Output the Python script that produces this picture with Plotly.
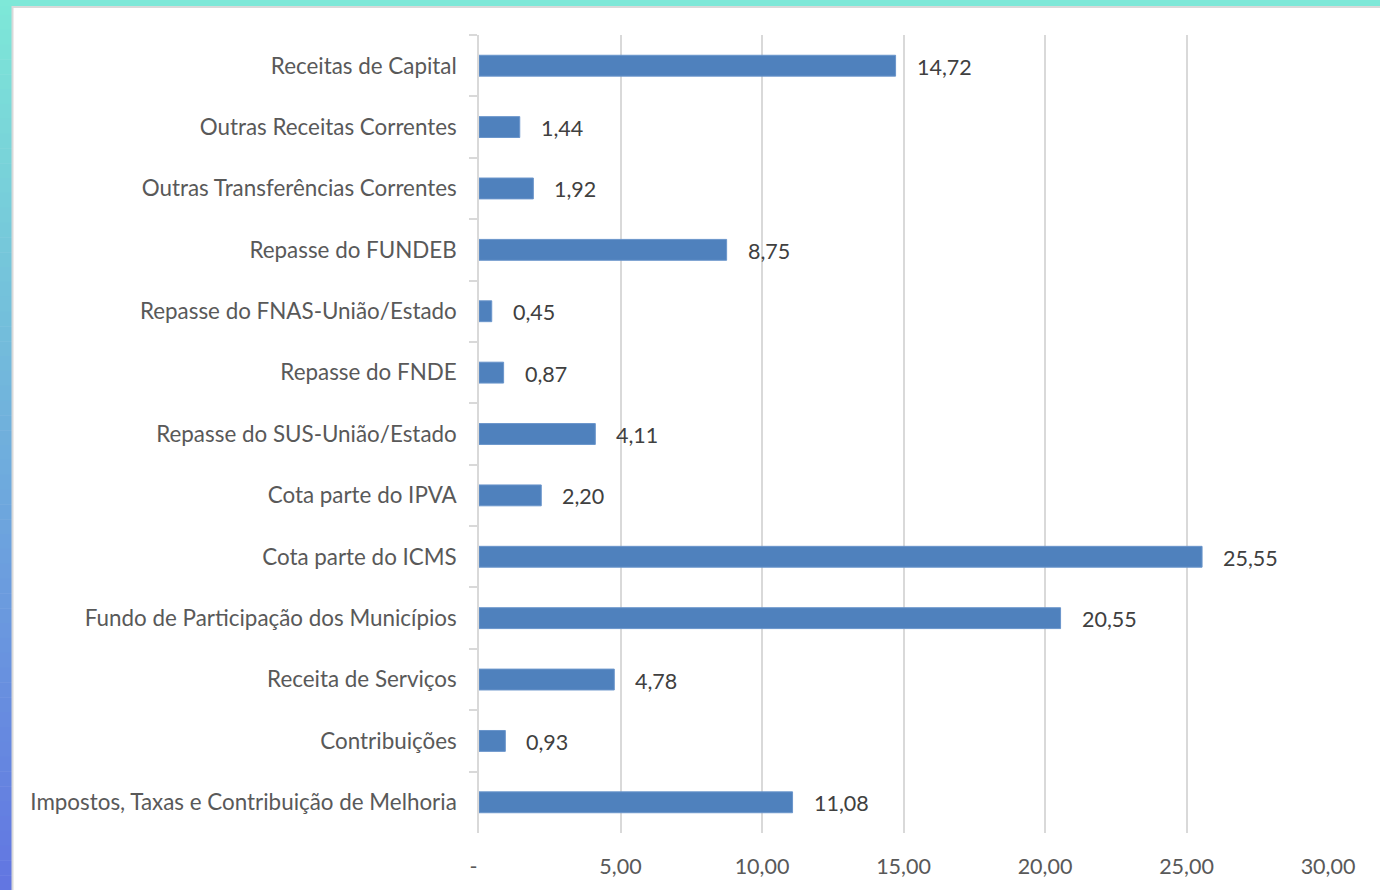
import plotly.graph_objects as go

categories = [
    "Receitas de Capital",
    "Outras Receitas Correntes",
    "Outras Transferências Correntes",
    "Repasse do FUNDEB",
    "Repasse do FNAS-União/Estado",
    "Repasse do FNDE",
    "Repasse do SUS-União/Estado",
    "Cota parte do IPVA",
    "Cota parte do ICMS",
    "Fundo de Participação dos Municípios",
    "Receita de Serviços",
    "Contribuições",
    "Impostos, Taxas e Contribuição de Melhoria",
]
values = [14.72, 1.44, 1.92, 8.75, 0.45, 0.87, 4.11, 2.20, 25.55, 20.55, 4.78, 0.93, 11.08]
tick_vals = [0, 5, 10, 15, 20, 25, 30]
tick_text = ["-\u00a0\u00a0", "5,00", "10,00", "15,00", "20,00", "25,00", "30,00"]

W, H = 1380, 890
L, R, T, B = 479, 52, 35, 57
pw, ph = W - L - R, H - T - B

def px_x(p):
    return (p - L) / pw

def px_y(p):
    return 1 - (p - T) / ph

def fmt(v):
    return f"{v:.2f}".replace(".", ",")

FONT = "Lato, Open Sans, sans-serif"

fig = go.Figure()
fig.add_trace(go.Bar(
    y=categories, x=values, orientation="h",
    marker=dict(color="#4F81BD", line=dict(color="#6A95CB", width=1)),
    width=0.34, showlegend=False, hoverinfo="skip",
))

annotations = []
for c, v in zip(categories, values):
    annotations.append(dict(
        x=v, y=c, xref="x", yref="y", text=fmt(v), showarrow=False,
        xanchor="left", xshift=19, yshift=-1,
        font=dict(family=FONT, size=21.5, color="#404040"),
    ))

shapes = []
# gradient frame (decoration)
top_c = (126, 232, 216)
bot_c = (98, 118, 226)
n = 60
for i in range(n):
    t0 = i / n
    t1 = (i + 1) / n
    tm = (t0 + t1) / 2
    col = tuple(int(top_c[k] + (bot_c[k] - top_c[k]) * tm) for k in range(3))
    shapes.append(dict(
        type="rect", xref="paper", yref="paper", layer="below",
        x0=px_x(0), x1=px_x(12), y0=px_y(H * t1 + 0.5), y1=px_y(H * t0),
        fillcolor=f"rgb{col}", line=dict(width=0),
    ))
shapes.append(dict(
    type="rect", xref="paper", yref="paper", layer="below",
    x0=px_x(0), x1=px_x(W), y0=px_y(6), y1=px_y(0),
    fillcolor="rgb(126,232,216)", line=dict(width=0),
))
# panel border
shapes.append(dict(type="line", xref="paper", yref="paper", layer="below",
                   x0=px_x(12.5), x1=px_x(12.5), y0=px_y(H), y1=px_y(6),
                   line=dict(color="#D9D9D9", width=2)))
shapes.append(dict(type="line", xref="paper", yref="paper", layer="below",
                   x0=px_x(12), x1=px_x(W), y0=px_y(7), y1=px_y(7),
                   line=dict(color="#D9D9D9", width=2)))

fig.update_layout(
    width=W, height=H,
    margin=dict(l=L, r=R, t=T, b=B, pad=0),
    paper_bgcolor="white", plot_bgcolor="white",
    font=dict(family=FONT, size=22.4, color="#595959"),
    annotations=annotations, shapes=shapes,
    bargap=0.66,
)
fig.update_xaxes(
    range=[0, 30], tickvals=tick_vals, ticktext=tick_text,
    showgrid=True, gridcolor="#D9D9D9", gridwidth=1.5,
    zeroline=False, showline=False, ticks="",
    ticklabelstandoff=18, fixedrange=True,
    tickfont=dict(size=21.5),
)
fig.update_yaxes(
    autorange="reversed", showline=True, linecolor="#D9D9D9", linewidth=1.5,
    ticks="outside", tickson="boundaries", ticklen=8, tickcolor="#D9D9D9", tickwidth=1.5,
    ticklabelstandoff=16, showgrid=False, fixedrange=True,
)

fig.write_html(
    "out.html",
    config={"displayModeBar": False},
    post_script="document.body.style.margin='0';document.body.style.overflow='hidden';",
)
